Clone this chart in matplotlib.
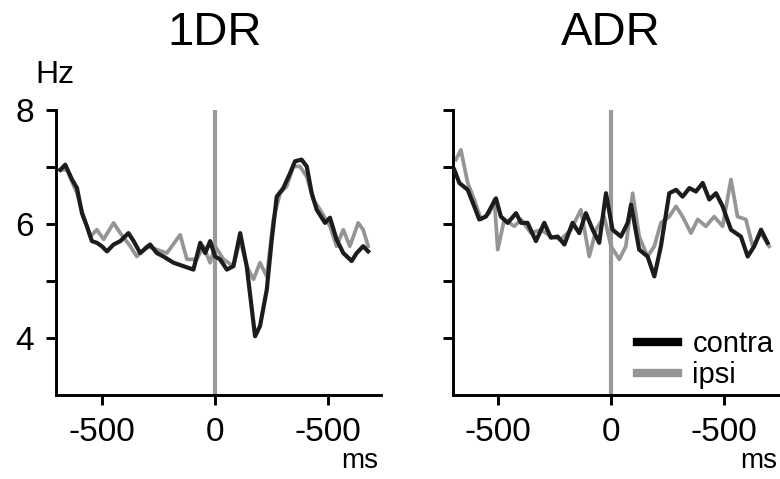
import matplotlib
matplotlib.use("Agg")
import matplotlib.pyplot as plt
import matplotlib.transforms as mtransforms
from matplotlib.lines import Line2D

plt.rcParams['font.family'] = ['Liberation Sans', 'DejaVu Sans']

# 1DR panel, firing rate (Hz) vs time from event (ms)
t_1dr_contra = [-686, -664, -634, -612, -590, -568, -546, -524, -502, -479, -450, -420,
                -384, -361, -332, -288, -258, -229, -184, -140, -96, -66, -44, -22, 0,
                22, 52, 81, 111, 140, 177, 199, 229, 251, 273, 302, 332, 354, 383, 406,
                428, 450, 487, 509, 538, 568, 605, 627, 656, 678]
hz_1dr_contra = [6.95, 7.04, 6.78, 6.63, 6.19, 5.96, 5.70, 5.67, 5.61, 5.52, 5.64, 5.70,
                 5.84, 5.70, 5.49, 5.64, 5.49, 5.43, 5.32, 5.26, 5.20, 5.67, 5.49, 5.70, 5.43,
                 5.38, 5.20, 5.26, 5.84, 5.26, 4.03, 4.21, 4.85, 5.73, 6.48, 6.63, 6.89, 7.10,
                 7.13, 7.01, 6.54, 6.25, 6.02, 6.11, 5.73, 5.49, 5.35, 5.49, 5.61, 5.52]

t_1dr_ipsi = [-686, -657, -612, -583, -553, -524, -494, -450, -420, -376, -347, -302,
              -258, -214, -155, -125, -81, -52, -22, 0, 37, 81, 111, 140, 170, 199, 229,
              258, 288, 317, 347, 376, 406, 435, 465, 509, 538, 568, 597, 634, 656, 678]
hz_1dr_ipsi = [6.95, 6.95, 6.54, 6.13, 5.78, 5.90, 5.73, 6.02, 5.84, 5.61, 5.43, 5.61,
               5.55, 5.49, 5.81, 5.38, 5.38, 5.61, 5.32, 5.61, 5.38, 5.26, 5.73, 5.26, 5.03,
               5.32, 5.08, 6.08, 6.54, 6.66, 7.01, 7.01, 6.83, 6.43, 6.25, 5.96, 5.61, 5.90,
               5.61, 6.02, 5.90, 5.61]

# ADR panel
t_adr_contra = [-693, -671, -634, -605, -583, -553, -509, -487, -457, -420, -398, -369,
                -332, -295, -266, -236, -206, -170, -140, -111, -81, -52, -22, 7, 44, 74,
                89, 125, 162, 192, 221, 258, 288, 317, 347, 376, 406, 435, 465, 494, 531,
                575, 605, 634, 664, 693]
hz_adr_contra = [6.95, 6.72, 6.60, 6.31, 6.08, 6.13, 6.45, 6.13, 6.02, 6.19, 6.02, 6.02,
                 5.70, 6.02, 5.76, 5.78, 5.64, 6.02, 5.84, 6.19, 5.90, 5.67, 6.54, 5.90, 5.78,
                 6.02, 6.34, 5.55, 5.43, 5.08, 5.61, 6.54, 6.60, 6.48, 6.63, 6.57, 6.72, 6.43,
                 6.54, 6.31, 5.90, 5.78, 5.43, 5.61, 5.90, 5.67]

t_adr_ipsi = [-686, -664, -634, -605, -575, -538, -516, -501, -472, -428, -398, -354,
              -310, -266, -221, -177, -133, -96, -66, -30, 0, 37, 66, 96, 125, 162, 192,
              221, 258, 288, 317, 354, 384, 420, 457, 494, 531, 560, 597, 627, 664, 700]
hz_adr_ipsi = [7.13, 7.30, 6.72, 6.43, 6.08, 6.19, 6.43, 5.55, 6.08, 5.96, 6.08, 5.84,
               5.90, 5.78, 5.73, 5.90, 6.25, 5.43, 5.90, 6.13, 5.61, 5.38, 5.61, 6.54, 5.78,
               5.43, 5.61, 6.02, 6.13, 6.31, 6.13, 5.84, 6.08, 5.96, 6.13, 5.96, 6.78, 6.13,
               6.08, 5.61, 5.84, 5.61]

x_ticks = [-500, 0, 500]
x_tick_labels = ['-500', '0', '-500']
y_ticks = [4, 5, 6, 7, 8]
y_tick_labels = ['4', '', '6', '', '8']

contra_color = '#1c1c1c'
ipsi_color = '#959595'
event_color = '#9a9a9a'

fig = plt.figure(figsize=(7.8, 4.79), dpi=100)
ax1 = fig.add_axes([56 / 780, 1 - 395 / 479, 325 / 780, 285 / 479])
ax2 = fig.add_axes([453 / 780, 1 - 395 / 479, 327 / 780, 285 / 479])


def style_panel(ax, title, xlim, show_ylabels):
    ax.set_xlim(*xlim)
    ax.set_ylim(3, 8)
    ax.axvline(0, color=event_color, lw=3, zorder=1)
    for side in ['top', 'right']:
        ax.spines[side].set_visible(False)
    for side in ['left', 'bottom']:
        ax.spines[side].set_linewidth(2.1)
    ax.tick_params(direction='out', length=7, width=2.1, labelsize=24, pad=9)
    ax.set_xticks(x_ticks)
    ax.set_xticklabels(x_tick_labels)
    ax.set_yticks(y_ticks)
    if show_ylabels:
        ax.set_yticklabels(y_tick_labels)
    else:
        ax.set_yticklabels([])
    trans = mtransforms.blended_transform_factory(ax.transData, ax.transAxes)
    ax.text(0, 1.228, title, transform=trans, ha='center', va='baseline', fontsize=34)
    ax.text(0.99, -0.256, 'ms', transform=ax.transAxes, ha='right', va='baseline',
            fontsize=20)


ax1.plot(t_1dr_ipsi, hz_1dr_ipsi, color=ipsi_color, lw=2.7, zorder=2)
ax1.plot(t_1dr_contra, hz_1dr_contra, color=contra_color, lw=3.0, zorder=3)
style_panel(ax1, '1DR', (-705, 735), True)

ax2.plot(t_adr_ipsi, hz_adr_ipsi, color=ipsi_color, lw=2.7, zorder=2)
ax2.plot(t_adr_contra, hz_adr_contra, color=contra_color, lw=3.0, zorder=3)
style_panel(ax2, 'ADR', (-699, 748), False)

fig.text(35 / 780, 1 - 83 / 479, 'Hz', ha='left', va='baseline', fontsize=23)

handles = [Line2D([], [], color='black', lw=6), Line2D([], [], color=ipsi_color, lw=6)]
ax2.legend(handles, ['contra', 'ipsi'], loc='lower right', bbox_to_anchor=(0.98, 0.02),
           frameon=False, fontsize=21, handlelength=1.4, handletextpad=0.5,
           labelspacing=0.1, borderpad=0, borderaxespad=0)

fig.savefig('out.png', dpi=100)
